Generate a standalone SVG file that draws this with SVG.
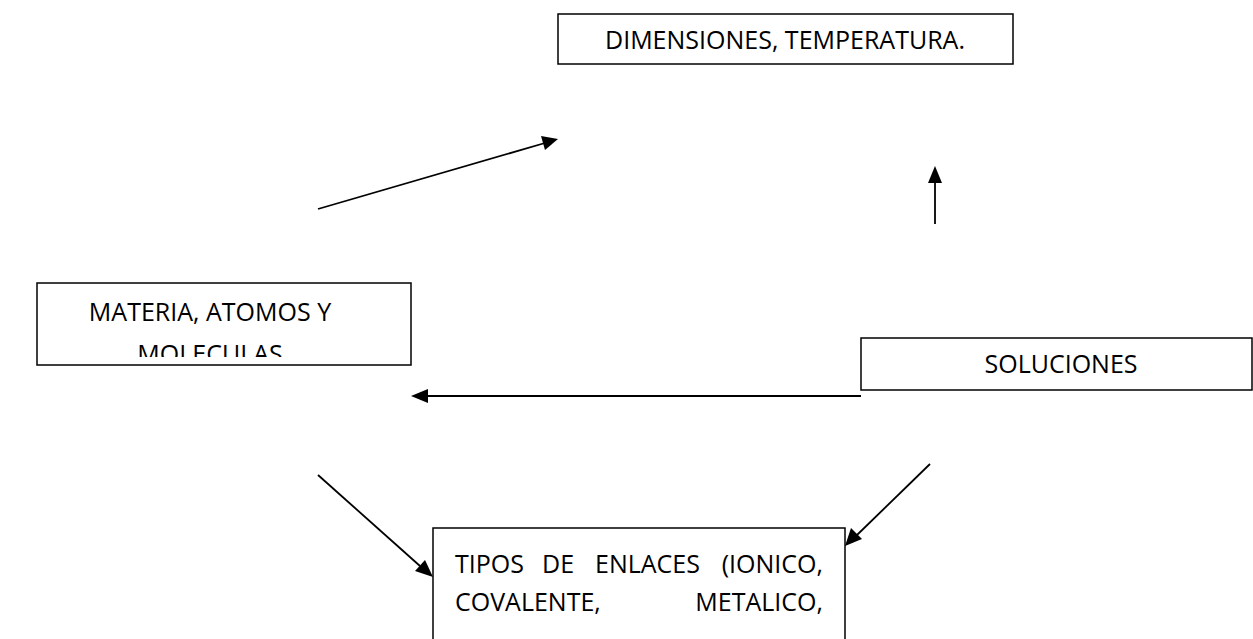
<svg xmlns="http://www.w3.org/2000/svg" width="1253" height="639" viewBox="0 0 1253 639">
<style>
.box{fill:#fff;stroke:#000;stroke-width:1.5}
.t{font-family:"Open Sans","Liberation Sans",sans-serif;font-size:25px;fill:#000}
.ln{stroke:#000;stroke-width:1.8;fill:none}
.hd{fill:#000}
</style>
<defs>
<clipPath id="clipL"><rect x="38" y="284" width="372" height="73"/></clipPath>
</defs>
<rect width="1253" height="639" fill="#fff"/>
<g id="connectors">
<line class="ln" x1="318" y1="209" x2="545" y2="143"/>
<path class="hd" d="M558,139 L541,136 L545,150 z"/>
<line class="ln" x1="935" y1="224" x2="935" y2="182"/>
<path class="hd" d="M935,166 L928,183 L942,183 z"/>
<line class="ln" x1="861" y1="396" x2="427" y2="396"/>
<path class="hd" d="M411,396 L428,389 L428,403 z"/>
<line class="ln" x1="318" y1="475" x2="420" y2="566"/>
<path class="hd" d="M433,577 L415,571 L425,560 z"/>
<line class="ln" x1="930" y1="464" x2="857" y2="535"/>
<path class="hd" d="M845,546 L851,528 L862,539 z"/>
</g>
<g id="node-dimensiones">
<rect class="box" x="558" y="14" width="455" height="50"/>
<text class="t" x="785" y="49" text-anchor="middle">DIMENSIONES, TEMPERATURA.</text>
</g>
<g id="node-materia">
<rect class="box" x="37" y="283" width="374" height="82"/>
<g clip-path="url(#clipL)">
<text class="t" x="210" y="321" text-anchor="middle">MATERIA, ATOMOS Y</text>
<text class="t" x="210" y="363" text-anchor="middle">MOLECULAS</text>
</g>
</g>
<g id="node-soluciones">
<rect class="box" x="861" y="338" width="391" height="52"/>
<text class="t" x="1061" y="373" text-anchor="middle">SOLUCIONES</text>
</g>
<g id="node-enlaces">
<rect class="box" x="433" y="528" width="412" height="130"/>
<text class="t" y="573" x="455">TIPOS</text>
<text class="t" y="573" x="542">DE</text>
<text class="t" y="573" x="595">ENLACES</text>
<text class="t" y="573" x="823" text-anchor="end">(IONICO,</text>
<text class="t" y="611" x="455">COVALENTE,</text>
<text class="t" y="611" x="823" text-anchor="end">METALICO,</text>
<text class="t" y="658" x="455">PUENTES DE HIDROGENO)</text>
</g>
</svg>
